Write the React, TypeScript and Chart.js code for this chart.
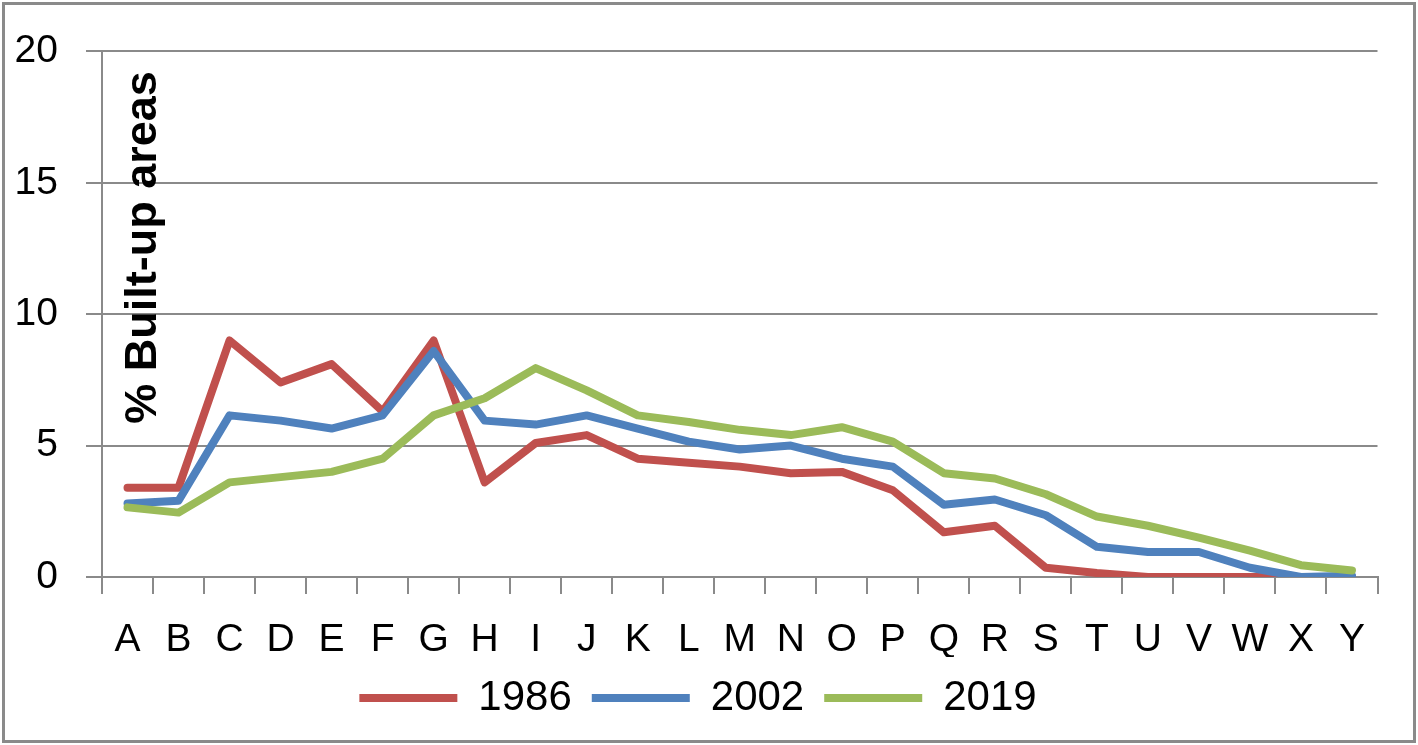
import React, { useEffect, useRef } from "react";
import { Chart, registerables } from "chart.js";

Chart.register(...registerables);

const categories = ["A","B","C","D","E","F","G","H","I","J","K","L","M","N","O","P","Q","R","S","T","U","V","W","X","Y"];
const seriesNames = ["1986", "2002", "2019"];
const values1986 = [3.4, 3.4, 9.0, 7.4, 8.1, 6.3, 9.0, 3.6, 5.1, 5.4, 4.5, 4.35, 4.2, 3.95, 4.0, 3.3, 1.7, 1.95, 0.35, 0.15, 0.0, 0.0, 0.0, 0.0, 0.0];
const values2002 = [2.8, 2.9, 6.15, 5.95, 5.65, 6.15, 8.6, 5.95, 5.8, 6.15, 5.65, 5.15, 4.85, 5.0, 4.5, 4.2, 2.75, 2.95, 2.35, 1.15, 0.95, 0.95, 0.35, 0.0, 0.05];
const values2019 = [2.65, 2.45, 3.6, 3.8, 4.0, 4.5, 6.15, 6.8, 7.95, 7.1, 6.15, 5.9, 5.6, 5.4, 5.7, 5.15, 3.95, 3.75, 3.15, 2.3, 1.95, 1.5, 1.0, 0.45, 0.25];
const yTicks = [0, 5, 10, 15, 20];
const yTitle = "% Built-up areas";
const colors = ["#C0504D", "#4F81BD", "#9BBB59"];

const FONT = "'Liberation Sans', Arial, sans-serif";
const GRID = "#8a8a8a";

const titlePlugin = {
  id: "insideTitle",
  beforeDatasetsDraw(chart: any) {
    const { ctx, chartArea } = chart;
    ctx.save();
    ctx.translate(chartArea.left + 54, chartArea.top + 196);
    ctx.rotate(-Math.PI / 2);
    ctx.font = `bold 45px ${FONT}`;
    ctx.fillStyle = "#000";
    ctx.textAlign = "center";
    ctx.textBaseline = "alphabetic";
    ctx.fillText(yTitle, 0, 0);
    ctx.restore();
  },
};

export default function App() {
  const ref = useRef<HTMLCanvasElement | null>(null);

  useEffect(() => {
    document.body.style.margin = "0";
    const allSeries = [values1986, values2002, values2019];
    const chart = new Chart(ref.current as HTMLCanvasElement, {
      type: "line",
      data: {
        labels: categories,
        datasets: seriesNames.map((name, i) => ({
          label: name,
          data: allSeries[i],
          borderColor: colors[i],
          backgroundColor: colors[i],
          borderWidth: 8,
          pointRadius: 0,
          pointHoverRadius: 0,
          tension: 0,
          borderCapStyle: "round" as const,
          borderJoinStyle: "round" as const,
          order: 3 - i,
        })),
      },
      options: {
        animation: false,
        responsive: false,
        maintainAspectRatio: false,
        events: [],
        layout: { padding: { left: 8, right: 0, top: 45, bottom: 16 } },
        plugins: {
          tooltip: { enabled: false },
          title: { display: false },
          legend: {
            position: "bottom",
            align: "center",
            labels: {
              usePointStyle: true,
              pointStyle: "line",
              pointStyleWidth: 98,
              boxWidth: 98,
              boxHeight: 8,
              padding: 20,
              color: "#000",
              font: { family: FONT, size: 42 },
              sort: (a: any, b: any) => a.datasetIndex - b.datasetIndex,
            },
          },
        },
        scales: {
          x: {
            type: "category",
            offset: true,
            grid: {
              display: true,
              offset: true,
              drawOnChartArea: false,
              drawTicks: true,
              tickLength: 17,
              color: GRID,
              lineWidth: 2,
            },
            border: { display: true, color: GRID, width: 2 },
            ticks: {
              autoSkip: false,
              maxRotation: 0,
              minRotation: 0,
              padding: 23,
              color: "#000",
              font: { family: FONT, size: 39 },
            },
            afterFit: (scale: any) => {
              scale.height = 80;
            },
          },
          y: {
            min: 0,
            max: 20,
            afterBuildTicks: (scale: any) => {
              scale.ticks = yTicks.map((v) => ({ value: v }));
            },
            grid: {
              display: true,
              drawOnChartArea: true,
              drawTicks: true,
              tickLength: 16,
              color: GRID,
              lineWidth: 2,
            },
            border: { display: true, color: GRID, width: 2 },
            ticks: {
              padding: 28,
              color: "#000",
              font: { family: FONT, size: 39 },
            },
            afterFit: (scale: any) => {
              scale.width = 94;
            },
          },
        },
      },
      plugins: [titlePlugin],
    });
    return () => chart.destroy();
  }, []);

  return (
    <div style={{ position: "fixed", left: 0, top: 0, width: 1418, height: 745, background: "#fff" }}>
      <canvas ref={ref} width={1388} height={745} style={{ position: "absolute", left: 0, top: 0, width: 1388, height: 745 }} />
      <div
        style={{
          position: "absolute",
          left: 2,
          top: 2,
          width: 1414,
          height: 741,
          boxSizing: "border-box",
          border: "3px solid #8a8a8a",
          pointerEvents: "none",
        }}
      />
    </div>
  );
}
